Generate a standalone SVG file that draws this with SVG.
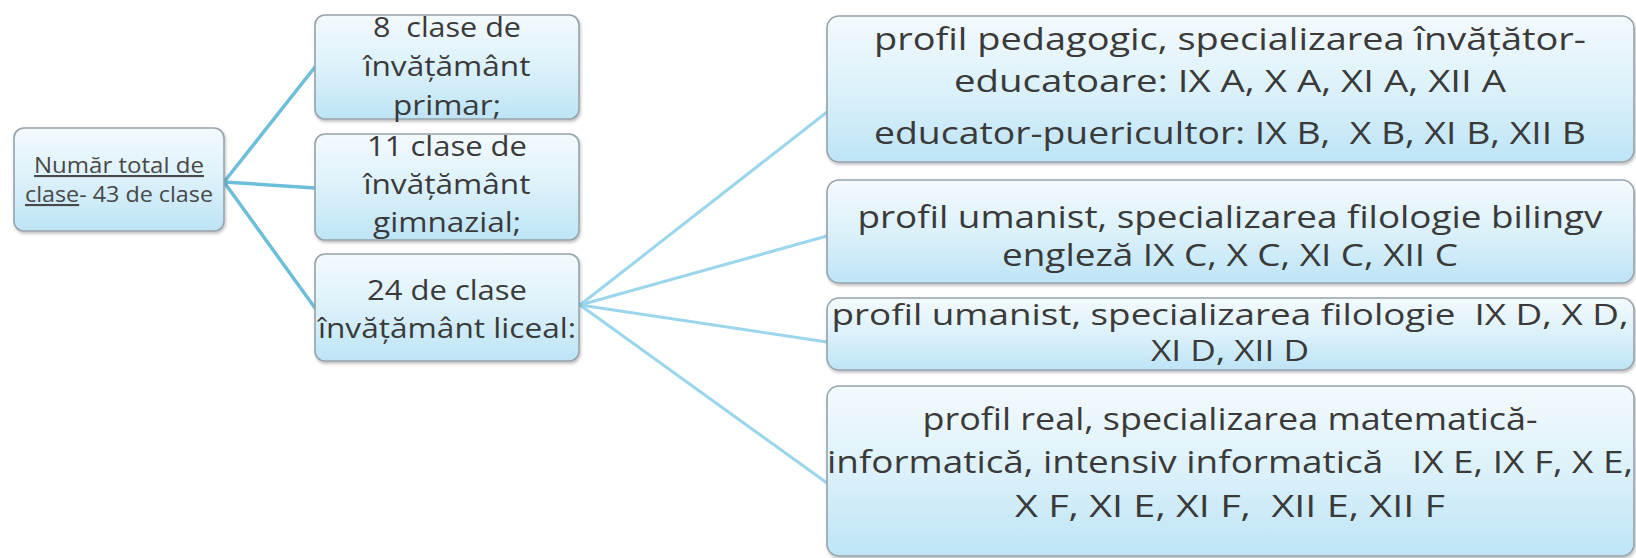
<svg xmlns="http://www.w3.org/2000/svg" width="1636" height="558" viewBox="0 0 1636 558">
<style>
.box{fill:url(#g);stroke:#97a3ab;stroke-width:1.6}
.t{font-family:"Open Sans","Liberation Sans",sans-serif;fill:#3a3a3a;text-anchor:middle;white-space:pre}
.r{font-size:21px;fill:#484848}
.m{font-size:27px}
.b{font-size:31px}
.bs{font-size:29px}
.c1{stroke:#6cbfdb;stroke-width:3.5;fill:none;stroke-linecap:round}
.c2{stroke:#9ad6ec;stroke-width:3;fill:none;stroke-linecap:round}
</style>
<defs>
<linearGradient id="g" x1="0" y1="0" x2="0" y2="1">
<stop offset="0" stop-color="#f3fafd"/>
<stop offset="0.5" stop-color="#dcf1fa"/>
<stop offset="1" stop-color="#bde4f6"/>
</linearGradient>
<filter id="sh" x="-5%" y="-5%" width="110%" height="120%">
<feDropShadow dx="1" dy="2" stdDeviation="1.5" flood-color="#000" flood-opacity="0.25"/>
</filter>
</defs>
<rect width="1636" height="558" fill="#ffffff"/>
<g id="connectors">
<line class="c1" x1="224" y1="182" x2="315" y2="67"/>
<line class="c1" x1="224" y1="182" x2="315" y2="188"/>
<line class="c1" x1="224" y1="182" x2="315" y2="308"/>
<line class="c2" x1="580" y1="305" x2="827" y2="112"/>
<line class="c2" x1="580" y1="305" x2="827" y2="236"/>
<line class="c2" x1="580" y1="305" x2="827" y2="342"/>
<line class="c2" x1="580" y1="305" x2="827" y2="483"/>
</g>
<g id="root">
<rect class="box" filter="url(#sh)" x="14" y="128" width="210" height="103" rx="10"/>
<text class="t r" x="119" y="173" textLength="170" lengthAdjust="spacingAndGlyphs" text-decoration="underline">Număr total de</text>
<text class="t r" x="119" y="202" textLength="188" lengthAdjust="spacingAndGlyphs"><tspan text-decoration="underline">clase</tspan>- 43 de clase</text>
</g>
<g id="primar">
<rect class="box" filter="url(#sh)" x="315" y="15" width="264" height="104" rx="10"/>
<text class="t m" x="447" y="37" textLength="148" lengthAdjust="spacingAndGlyphs">8  clase de</text>
<text class="t m" x="447" y="76" textLength="167" lengthAdjust="spacingAndGlyphs">învățământ</text>
<text class="t m" x="447" y="115" textLength="108" lengthAdjust="spacingAndGlyphs">primar;</text>
</g>
<g id="gimnazial">
<rect class="box" filter="url(#sh)" x="315" y="134" width="264" height="106" rx="10"/>
<text class="t m" x="447" y="156" textLength="160" lengthAdjust="spacingAndGlyphs">11 clase de</text>
<text class="t m" x="447" y="194" textLength="167" lengthAdjust="spacingAndGlyphs">învățământ</text>
<text class="t m" x="447" y="232" textLength="148" lengthAdjust="spacingAndGlyphs">gimnazial;</text>
</g>
<g id="liceal">
<rect class="box" filter="url(#sh)" x="315" y="254" width="264" height="107" rx="10"/>
<text class="t m" x="447" y="300" textLength="160" lengthAdjust="spacingAndGlyphs">24 de clase</text>
<text class="t m" x="447" y="338" textLength="258" lengthAdjust="spacingAndGlyphs">învățământ liceal:</text>
</g>
<g id="pedagogic">
<rect class="box" filter="url(#sh)" x="827" y="16" width="807" height="146" rx="12"/>
<text class="t b" x="1230" y="50" textLength="712" lengthAdjust="spacingAndGlyphs">profil pedagogic, specializarea învățător-</text>
<text class="t b" x="1230" y="92" textLength="552" lengthAdjust="spacingAndGlyphs">educatoare: IX A, X A, XI A, XII A</text>
<text class="t b" x="1230" y="144" textLength="712" lengthAdjust="spacingAndGlyphs">educator-puericultor: IX B,  X B, XI B, XII B</text>
</g>
<g id="bilingv">
<rect class="box" filter="url(#sh)" x="827" y="180" width="807" height="103" rx="12"/>
<text class="t b" x="1230" y="228" textLength="745" lengthAdjust="spacingAndGlyphs">profil umanist, specializarea filologie bilingv</text>
<text class="t b" x="1230" y="266" textLength="456" lengthAdjust="spacingAndGlyphs">engleză IX C, X C, XI C, XII C</text>
</g>
<g id="filologie">
<rect class="box" filter="url(#sh)" x="827" y="298" width="807" height="72" rx="12"/>
<text class="t bs" x="1230" y="325" textLength="797" lengthAdjust="spacingAndGlyphs">profil umanist, specializarea filologie  IX D, X D,</text>
<text class="t bs" x="1230" y="361" textLength="158" lengthAdjust="spacingAndGlyphs">XI D, XII D</text>
</g>
<g id="real">
<rect class="box" filter="url(#sh)" x="827" y="386" width="807" height="170" rx="12"/>
<text class="t b" x="1230" y="430" textLength="615" lengthAdjust="spacingAndGlyphs">profil real, specializarea matematică-</text>
<text class="t b" x="1230" y="473" textLength="806" lengthAdjust="spacingAndGlyphs">informatică, intensiv informatică   IX E, IX F, X E,</text>
<text class="t b" x="1230" y="517" textLength="430" lengthAdjust="spacingAndGlyphs">X F, XI E, XI F,  XII E, XII F</text>
</g>
</svg>
